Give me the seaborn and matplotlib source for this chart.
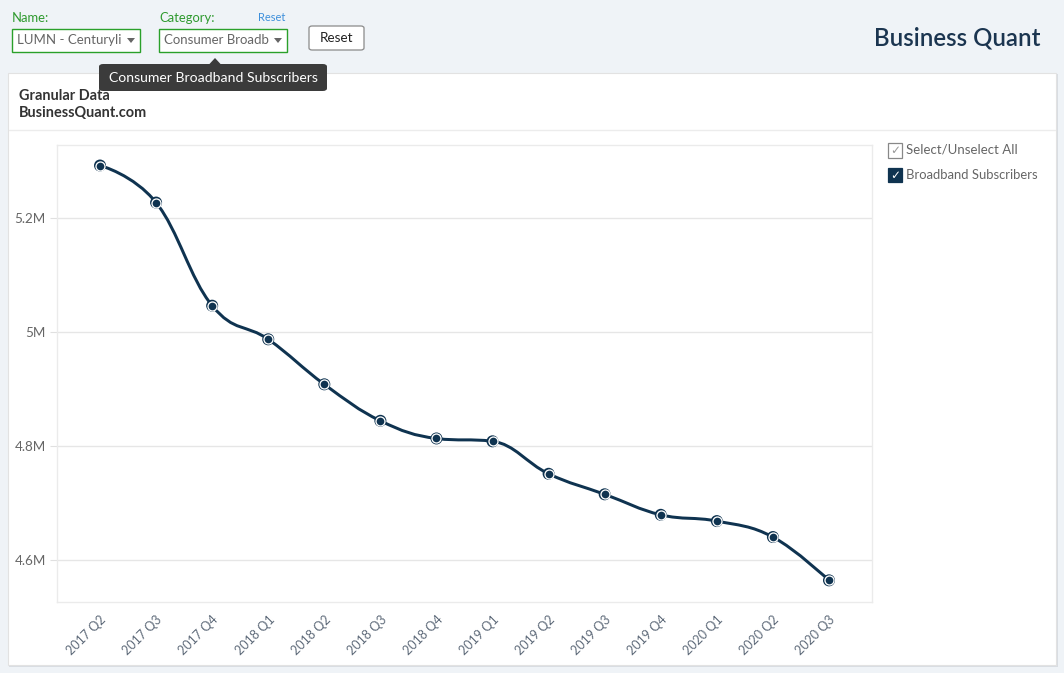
import numpy as np
import pandas as pd
import matplotlib
matplotlib.use("Agg")
import matplotlib.pyplot as plt
import seaborn as sns
from matplotlib.patches import Rectangle, FancyBboxPatch, Polygon, PathPatch
from matplotlib.path import Path
from matplotlib.lines import Line2D

# ---------------- data ----------------
quarters = ["2017 Q2", "2017 Q3", "2017 Q4", "2018 Q1", "2018 Q2", "2018 Q3", "2018 Q4",
            "2019 Q1", "2019 Q2", "2019 Q3", "2019 Q4", "2020 Q1", "2020 Q2", "2020 Q3"]
subscribers_m = [5.292, 5.227, 5.046, 4.987, 4.908, 4.844, 4.813,
                 4.808, 4.751, 4.715, 4.679, 4.668, 4.640, 4.564]
y_ticks = [4.6, 4.8, 5.0, 5.2]
y_tick_labels = ["4.6M", "4.8M", "5M", "5.2M"]
series_name = "Broadband Subscribers"

# ---------------- style ----------------
sns.set_theme(style="white")
plt.rcParams['font.family'] = ['Lato', 'DejaVu Sans']

W, H = 1064, 673
BG = "#eff3f7"
NAVY = "#0f3350"
GRID = "#e6e6e6"
TXT = "#666666"

fig = plt.figure(figsize=(W / 100, H / 100), dpi=100, facecolor=BG)


def fx(px):
    return px / W


def fy(py):
    return 1 - py / H


def ptsz(px):
    return px * 0.72


# card with shadow (drawn beneath the axes)
fig.add_artist(Rectangle((fx(9), fy(667)), fx(1049), (667 - 74) / H, transform=fig.transFigure,
                         facecolor="#d9dde2", edgecolor="none", zorder=-3))
fig.add_artist(Rectangle((fx(8), fy(665)), fx(1048), (665 - 73) / H, transform=fig.transFigure,
                         facecolor="white", edgecolor="#e2e2e2", linewidth=0.8, zorder=-2))
fig.add_artist(Line2D([fx(9), fx(1055)], [fy(130), fy(130)], transform=fig.transFigure,
                      color="#ececec", linewidth=1, zorder=-1))

# header texts
fig.text(fx(19), fy(96), "Granular Data", fontsize=ptsz(14.5), color="#333333",
         fontweight="bold", va="center", ha="left")
fig.text(fx(19), fy(113), "BusinessQuant.com", fontsize=ptsz(14.5), color="#333333",
         fontweight="bold", va="center", ha="left")

# ---------------- axes ----------------
ax = fig.add_axes([fx(57), fy(602), (872 - 57) / W, (602 - 145) / H])
ax.set_zorder(1)
ax.set_facecolor("white")

df = pd.DataFrame({"quarter": quarters, "value": subscribers_m})
xs = np.arange(len(quarters), dtype=float)
ys = np.asarray(subscribers_m, dtype=float)

# smooth spline path (Highcharts-like control points)
smoothing = 1.5
denom = smoothing + 1
lc, rc = [], []
n = len(xs)
for i in range(n):
    px, py = xs[i], ys[i]
    if 0 < i < n - 1:
        lx, ly = xs[i - 1], ys[i - 1]
        nx, ny = xs[i + 1], ys[i + 1]
        lcx = (smoothing * px + lx) / denom
        lcy = (smoothing * py + ly) / denom
        rcx = (smoothing * px + nx) / denom
        rcy = (smoothing * py + ny) / denom
        corr = ((rcy - lcy) * (rcx - px)) / (rcx - lcx) + py - rcy
        lcy += corr
        rcy += corr
        if lcy > ly and lcy > py:
            lcy = max(ly, py); rcy = 2 * py - lcy
        elif lcy < ly and lcy < py:
            lcy = min(ly, py); rcy = 2 * py - lcy
        if rcy > ny and rcy > py:
            rcy = max(ny, py); lcy = 2 * py - rcy
        elif rcy < ny and rcy < py:
            rcy = min(ny, py); lcy = 2 * py - rcy
        lc.append((lcx, lcy)); rc.append((rcx, rcy))
    else:
        lc.append((px, py)); rc.append((px, py))

verts = [(xs[0], ys[0])]
codes = [Path.MOVETO]
for i in range(1, n):
    verts += [rc[i - 1], lc[i], (xs[i], ys[i])]
    codes += [Path.CURVE4] * 3
ax.add_patch(PathPatch(Path(verts, codes), facecolor="none", edgecolor=NAVY,
                       linewidth=ptsz(3), zorder=3, capstyle="round", joinstyle="round"))

# markers
sns.scatterplot(data=df, x="quarter", y="value", ax=ax, s=(ptsz(12)) ** 2, color=NAVY,
                edgecolor="none", linewidth=0, zorder=4, legend=False)
sns.scatterplot(data=df, x="quarter", y="value", ax=ax, s=(ptsz(9)) ** 2, color=NAVY,
                edgecolor="white", linewidth=ptsz(1.3), zorder=5, legend=False)

# axis limits matching the reference pixel layout
ax.set_xlim(-0.767, n - 1 + 0.767)
ax.set_ylim(4.526, 5.328)

ax.set_yticks(y_ticks)
ax.set_yticklabels(y_tick_labels)
ax.set_xticks(xs)
ax.set_xticklabels(quarters, rotation=45, ha="right", rotation_mode="anchor")
ax.set_xlabel("")
ax.set_ylabel("")
ax.grid(axis="y", color=GRID, linewidth=1)
ax.set_axisbelow(True)
for s in ["left", "bottom", "top", "right"]:
    ax.spines[s].set_visible(True)
    ax.spines[s].set_color("#ebebeb")
    ax.spines[s].set_linewidth(1)
ax.tick_params(axis="y", which="both", length=5, width=0.8, color="#e0e0e0",
               labelsize=ptsz(13.5), labelcolor=TXT, pad=3, left=True)
ax.tick_params(axis="x", which="both", length=0, labelsize=ptsz(12.5), labelcolor="#5f6b7a", pad=8)

# ---------------- legend on the right ----------------
fig.add_artist(Rectangle((fx(888), fy(157.5)), 14 / W, 14 / H, transform=fig.transFigure,
                         facecolor="white", edgecolor="#888888", linewidth=0.9, zorder=5))
fig.text(fx(895), fy(150.5), "✓", fontsize=ptsz(12), color="#999999", ha="center", va="center",
         family=["DejaVu Sans"], zorder=6)
fig.text(fx(906), fy(150), "Select/Unselect All", fontsize=ptsz(13.3), color="#666666",
         ha="left", va="center")
fig.add_artist(Rectangle((fx(888), fy(182.5)), 14 / W, 14 / H, transform=fig.transFigure,
                         facecolor=NAVY, edgecolor=NAVY, linewidth=0.9, zorder=5))
fig.text(fx(895), fy(175.5), "✓", fontsize=ptsz(12), color="white", ha="center", va="center",
         family=["DejaVu Sans"], zorder=6)
fig.text(fx(906), fy(175), series_name, fontsize=ptsz(13.0), color="#666666",
         ha="left", va="center")

# ---------------- top controls ----------------
GREEN = "#2f9a2f"
fig.text(fx(12), fy(18), "Name:", fontsize=ptsz(13), color=GREEN, ha="left", va="center")
fig.text(fx(159), fy(18), "Category:", fontsize=ptsz(13), color=GREEN, ha="left", va="center")
fig.text(fx(258), fy(17.5), "Reset", fontsize=ptsz(11), color="#3d8fdb", ha="left", va="center")

for x0, x1, label in [(12, 140, "LUMN - Centuryli"), (159, 287, "Consumer Broadb")]:
    fig.add_artist(Rectangle((fx(x0), fy(52)), (x1 - x0) / W, 23 / H, transform=fig.transFigure,
                             facecolor="white", edgecolor="#2aa02a", linewidth=1, zorder=2))
    fig.text(fx(x0 + 5), fy(40.5), label, fontsize=ptsz(13.3), color="#666666",
             ha="left", va="center", zorder=3)
    fig.add_artist(Polygon([(fx(x1 - 13), fy(38)), (fx(x1 - 5), fy(38)), (fx(x1 - 9), fy(43))],
                           closed=True, transform=fig.transFigure, facecolor="#666666",
                           edgecolor="none", zorder=3))

fig.add_artist(FancyBboxPatch((fx(309), fy(50)), 55 / W, 24 / H, transform=fig.transFigure,
                              boxstyle="round,pad=0,rounding_size=0.003", facecolor="white",
                              edgecolor="#8a8a8a", linewidth=0.9, zorder=2))
fig.text(fx(336.5), fy(38), "Reset", fontsize=ptsz(13.5), color="#222222", ha="center",
         va="center", zorder=3)

# tooltip
fig.add_artist(FancyBboxPatch((fx(99), fy(91)), 228 / W, 27 / H, transform=fig.transFigure,
                              boxstyle="round,pad=0,rounding_size=0.004", facecolor="#3b3b3b",
                              edgecolor="none", zorder=6))
fig.add_artist(Polygon([(fx(209), fy(64.5)), (fx(221), fy(64.5)), (fx(215), fy(58))],
                       closed=True, transform=fig.transFigure, facecolor="#3b3b3b",
                       edgecolor="none", zorder=6))
fig.text(fx(213), fy(77.5), "Consumer Broadband Subscribers", fontsize=ptsz(14),
         color="white", ha="center", va="center", zorder=7)

# logo
fig.text(fx(1040), fy(38), "Business Quant", fontsize=ptsz(24), color="#1b3550",
         ha="right", va="center", fontweight="semibold", family=["Lato", "DejaVu Sans"])

fig.savefig("out.png", dpi=100, facecolor=BG)
